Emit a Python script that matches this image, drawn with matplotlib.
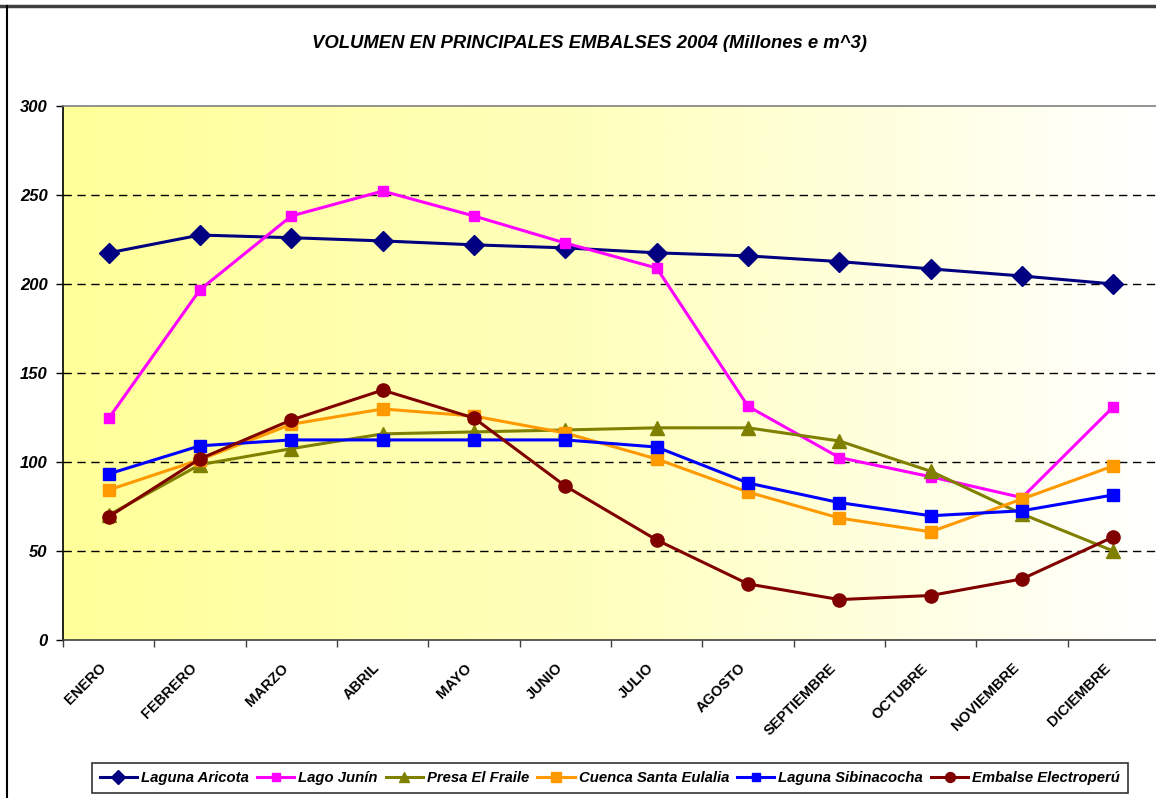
import numpy as np
import matplotlib
matplotlib.use("Agg")
import matplotlib.pyplot as plt
from matplotlib.lines import Line2D
from matplotlib.colors import LinearSegmentedColormap

months = ["ENERO", "FEBRERO", "MARZO", "ABRIL", "MAYO", "JUNIO", "JULIO",
          "AGOSTO", "SEPTIEMBRE", "OCTUBRE", "NOVIEMBRE", "DICIEMBRE"]

laguna_aricota = [217.5, 227.5, 226, 224.2, 222, 220.3, 217.5, 215.8, 212.6, 208.5, 204.5, 200]
lago_junin = [124.5, 196.8, 238.2, 252.2, 238.2, 223, 209, 131.3, 102.5, 91.7, 80, 131]
presa_el_fraile = [70.2, 98.5, 107.5, 115.8, 116.9, 118, 119.2, 119.2, 111.8, 94.8, 70.8, 50]
cuenca_santa_eulalia = [84.3, 101.3, 121.2, 129.8, 125.8, 116.3, 101.7, 83.1, 68.5, 60.8, 79.2, 97.8]
laguna_sibinacocha = [93.3, 109.1, 112.4, 112.4, 112.4, 112.4, 108.4, 88.2, 77.2, 69.8, 72.6, 81.5]
embalse_electroperu = [69.2, 101.8, 123.6, 140.4, 124.7, 86.5, 56.2, 31.5, 22.7, 25, 34.3, 57.9]

series_names = ["Laguna Aricota", "Lago Junín", "Presa El Fraile",
                "Cuenca Santa Eulalia", "Laguna Sibinacocha", "Embalse Electroperú"]

title = "VOLUMEN EN PRINCIPALES EMBALSES 2004 (Millones e m^3)"

plt.rcParams['font.family'] = ['Liberation Sans', 'DejaVu Sans']

fig = plt.figure(figsize=(11.56, 7.98), dpi=100)
fig.patch.set_facecolor('white')

W, H = 1156, 798
left_px, right_px, top_px, bot_px = 63, 1159, 106, 640
ax = fig.add_axes([left_px / W, 1 - bot_px / H, (right_px - left_px) / W, (bot_px - top_px) / H])

x = np.arange(len(months))
ax.set_xlim(-0.5, len(months) - 0.5)
ax.set_ylim(0, 300)

# gradient background
cmap = LinearSegmentedColormap.from_list("yw", [(1, 1, 0.6), (1, 1, 0.75), (1, 1, 1)])
grad = np.linspace(0, 1, 512).reshape(1, -1)
ax.imshow(grad, extent=[-0.5, len(months) - 0.5, 0, 300], aspect='auto', cmap=cmap,
          zorder=0, interpolation='bilinear')

# gridlines
for v in [50, 100, 150, 200, 250]:
    ax.axhline(v, color='black', lw=1.0, dashes=(6, 4), zorder=1)

styles = [
    (laguna_aricota, '#000080', 'D', 10),
    (lago_junin, '#FF00FF', 's', 7.5),
    (presa_el_fraile, '#808000', '^', 10),
    (cuenca_santa_eulalia, '#FF9900', 's', 9),
    (laguna_sibinacocha, '#0000FF', 's', 8),
    (embalse_electroperu, '#800000', 'o', 9.5),
]
handles = []
for (vals, col, mk, ms), name in zip(styles, series_names):
    h, = ax.plot(x, vals, color=col, lw=2.2, marker=mk, markersize=ms,
                 markerfacecolor=col, markeredgecolor=col, label=name, zorder=3)
    handles.append(h)

# spines
ax.spines['top'].set_color('#808080')
ax.spines['top'].set_linewidth(1.2)
ax.spines['right'].set_visible(False)
ax.spines['left'].set_color('black')
ax.spines['left'].set_linewidth(1.2)
ax.spines['bottom'].set_color('#404040')
ax.spines['bottom'].set_linewidth(1.2)

ax.set_yticks([0, 50, 100, 150, 200, 250, 300])
ax.set_yticklabels([str(v) for v in [0, 50, 100, 150, 200, 250, 300]],
                   fontsize=12, fontweight='bold', fontstyle='italic')
ax.tick_params(axis='y', direction='out', length=5, width=1, pad=6, colors='black')

ax.set_xticks(x)
ax.set_xticklabels(months, rotation=45, ha='right', va='top', fontsize=10.5, fontweight='bold')
ax.tick_params(axis='x', which='major', length=0, pad=15)
ax.set_xticks(np.arange(-0.5, len(months), 1.0), minor=True)
ax.tick_params(axis='x', which='minor', direction='out', length=5, width=1, color='#404040')

fig.text(589 / W, 1 - 43 / H, title, ha='center', va='center', fontsize=13.3,
         fontweight='bold', fontstyle='italic')

leg = fig.legend(handles=handles, labels=series_names, loc='center',
                 bbox_to_anchor=(610 / W, 1 - 778 / H), ncol=6, frameon=True,
                 fancybox=False, edgecolor='black', handlelength=2.5, handletextpad=0.27,
                 columnspacing=0.55, borderpad=0.55, markerscale=0.75,
                 prop={'size': 10.7, 'weight': 'bold', 'style': 'italic'})
leg.get_frame().set_linewidth(1.2)

# outer chart frame (partially visible)
fig.add_artist(Line2D([0, 1], [1 - 6 / H, 1 - 6 / H], transform=fig.transFigure,
                      color='#404040', lw=2.5))
fig.add_artist(Line2D([7 / W, 7 / W], [0, 1 - 6 / H], transform=fig.transFigure,
                      color='black', lw=1.5))

fig.savefig("out.png", dpi=100)
